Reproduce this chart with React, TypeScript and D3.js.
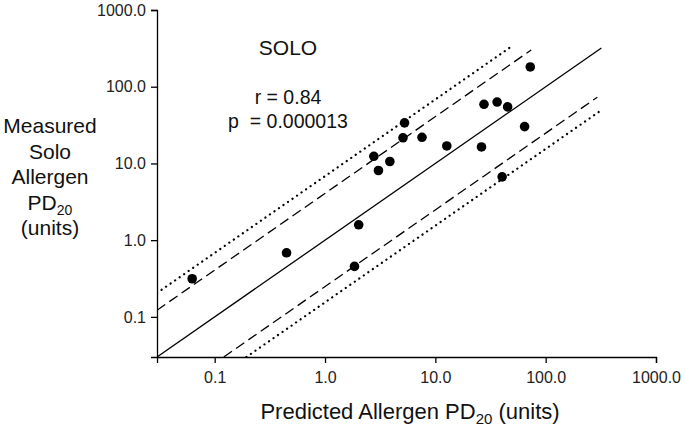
import React, { useRef, useEffect } from "react"
import * as d3 from "d3"

// Predicted vs measured allergen PD20 (units)
const predicted = [0.0625, 0.448, 1.85, 2.02, 2.77, 3.05, 3.87, 5.09, 5.26, 7.57, 12.7, 26.2, 27.6, 36.3, 45.2, 64.4, 40.3, 72.5]
const measured = [0.314, 0.685, 0.455, 1.585, 12.4, 8.09, 10.6, 21.6, 33.8, 21.9, 16.9, 16.4, 59.0, 63.1, 54.6, 30.2, 6.69, 181]

const tickValues = [0.1, 1, 10, 100, 1000]
const axisDomain = [0.03, 1000]

// identity line and limit lines: offset in decades from y = x, last x
const refLineNames = ["identity", "upperDash", "lowerDash", "upperDot", "lowerDot"]
const refLineOffsets = [0, 0.61, -0.605, 0.835, -0.81]
const refLineEnds = [320, 74, 294, 48, 319]

const statLabels = ["SOLO", "r = 0.84", "p  = 0.000013"]
const yTitleLines = ["Measured", "Solo", "Allergen", "PD", "(units)"]

const FONT = "'Liberation Sans', Arial, sans-serif"

const App: React.FC = () => {
  const svgRef = useRef<SVGSVGElement | null>(null)
  const width = 685
  const height = 430

  useEffect(() => {
    if (!svgRef.current) return
    const svg = d3.select(svgRef.current)
    svg.selectAll("*").remove()

    const left = 157, right = 656, top = 10, bottom = 357

    const x = d3.scaleLog().domain(axisDomain).range([left, right])
    const y = d3.scaleLog().domain(axisDomain).range([bottom, top])

    svg.append("defs").append("clipPath").attr("id", "plot")
      .append("rect").attr("x", left).attr("y", top)
      .attr("width", right - left).attr("height", bottom - top)

    // reference lines
    const lineGen = d3.line<number[]>().x((d) => x(d[0])).y((d) => y(d[1]))
    const styleFor = (name: string) => {
      if (name.includes("Dash")) return { dash: "10 5", w: 1.3, cap: "butt" }
      if (name.includes("Dot")) return { dash: "0.1 5.4", w: 2.2, cap: "round" }
      return { dash: null, w: 1.3, cap: "butt" }
    }
    refLineNames.forEach((name, i) => {
      const k = Math.pow(10, refLineOffsets[i])
      const x0 = Math.max(axisDomain[0], axisDomain[0] / k)
      const x1 = refLineEnds[i]
      const s = styleFor(name)
      svg.append("path")
        .attr("clip-path", "url(#plot)")
        .attr("d", lineGen([[x0, x0 * k], [x1, x1 * k]]))
        .attr("fill", "none")
        .attr("stroke", "#000")
        .attr("stroke-width", s.w)
        .attr("stroke-linecap", s.cap)
        .attr("stroke-dasharray", s.dash)
    })

    // points
    svg.append("g").selectAll("circle")
      .data(predicted.map((p, i) => [p, measured[i]]))
      .enter().append("circle")
      .attr("cx", (d) => x(d[0]))
      .attr("cy", (d) => y(d[1]))
      .attr("r", 4.8)
      .attr("fill", "#000")

    // axes
    const fmt = d3.format(".1f")
    const gx = svg.append("g")
      .attr("transform", `translate(0,${bottom})`)
      .call(d3.axisBottom(x).tickValues(tickValues).tickFormat((d) => fmt(d as number)).tickSizeOuter(0).tickSize(6).tickPadding(9))
    const gy = svg.append("g")
      .attr("transform", `translate(${left},0)`)
      .call(d3.axisLeft(y).tickValues(tickValues).tickFormat((d) => fmt(d as number)).tickSizeOuter(0).tickSize(6).tickPadding(5))
    ;[gx, gy].forEach((g) => {
      g.select(".domain").attr("stroke-width", 1.3)
      g.selectAll(".tick line").attr("stroke-width", 1.3)
      g.selectAll(".tick text").attr("font-family", FONT).attr("font-size", 16).attr("fill", "#222")
    })

    // statistics text
    const statY = [55, 104, 128]
    statLabels.forEach((t, i) => {
      svg.append("text")
        .attr("x", 288).attr("y", statY[i])
        .attr("text-anchor", "middle")
        .attr("font-family", FONT)
        .attr("font-size", i === 0 ? 21 : 19.5)
        .attr("fill", "#111")
        .style("white-space", "pre")
        .text(t)
    })

    // y title
    yTitleLines.forEach((t, i) => {
      const tx = svg.append("text")
        .attr("x", 50).attr("y", 133 + i * 25.5)
        .attr("text-anchor", "middle")
        .attr("font-family", FONT)
        .attr("font-size", 21)
        .attr("fill", "#111")
      if (t === "PD") {
        tx.append("tspan").text("PD")
        tx.append("tspan").attr("font-size", 14).attr("dy", 5).text("20")
      } else {
        tx.text(t)
      }
    })

    // x title
    const xt = svg.append("text")
      .attr("x", 410).attr("y", 419)
      .attr("text-anchor", "middle")
      .attr("font-family", FONT)
      .attr("font-size", 22)
      .attr("fill", "#111")
    xt.append("tspan").text("Predicted Allergen PD")
    xt.append("tspan").attr("font-size", 15).attr("dy", 5).text("20")
    xt.append("tspan").attr("dy", -5).text(" (units)")
  }, [])

  return (
    <svg ref={svgRef} width={width} height={height}
      style={{ position: "absolute", left: 0, top: 0, background: "#fff" }} />
  )
}

export default App
